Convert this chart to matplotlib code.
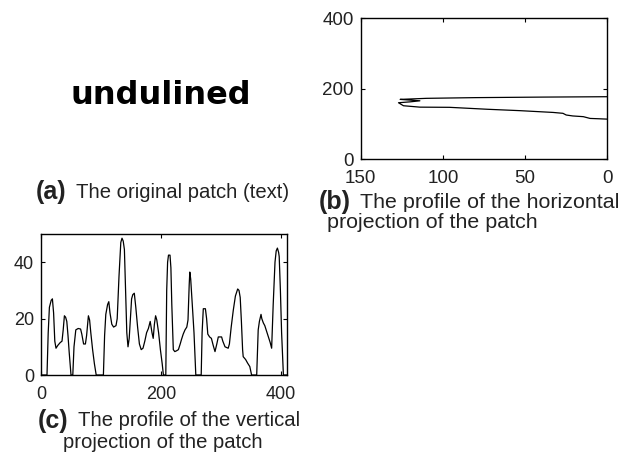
import matplotlib
matplotlib.use("Agg")
import matplotlib.pyplot as plt

plt.rcParams['font.family'] = ['Liberation Sans', 'DejaVu Sans']

# vertical projection profile (c): column index vs ink count
col_idx = [0, 10, 12, 14, 17, 19, 21, 23, 25, 28, 32, 35, 37, 39, 41, 43, 45, 47, 50,
           53, 55, 58, 62, 66, 68, 71, 74, 76, 79, 81, 83, 86, 89, 92,
           104, 106, 108, 111, 113, 115, 118, 121, 125, 127, 130, 133, 135, 137, 139,
           141, 143, 145, 147, 149, 151, 153, 155.5, 158, 161, 164, 167, 170, 173, 176,
           179, 182, 185, 187, 189, 191, 193, 196, 199, 202, 204,
           208, 209.5, 211, 212.5, 215, 216.5, 218, 220.5, 223, 226, 229, 232, 234, 237,
           240, 243, 245, 247, 248, 249.5, 251, 253, 255, 257, 258,
           267, 268.5, 270.5, 274, 276, 278, 281, 284, 287, 290, 293, 295.5, 301, 303,
           306.7, 312, 314, 317, 320.5, 324, 327.8, 330, 332, 334, 336, 337, 341, 344.4,
           348, 351,
           359.5, 361, 362, 364, 366.7, 368, 370.5, 373, 376, 379, 382, 384.4, 387, 390,
           392, 394, 396, 397, 399, 401, 404, 410]
col_count = [0, 0, 15, 24, 26.5, 27, 22, 12, 9.5, 10.5, 11.5, 12, 16, 21, 20.5, 19, 14, 8, 0,
             0, 10, 16, 16.5, 16.3, 14.5, 11, 11, 14, 21, 19.5, 15, 9, 4, 0,
             0, 14, 21.5, 25, 26, 22, 18, 17, 17.5, 20, 35, 47, 48.5, 47.5, 44.5,
             30, 15, 10, 13, 20, 27, 28.5, 29, 24, 17, 11, 9, 9.5, 12, 15,
             16.5, 19, 15, 13, 18, 21, 19.5, 15, 9, 4, 0,
             0, 30, 40, 42.5, 42.5, 38, 25, 9, 8.3, 8.6, 9, 11, 12.5, 14.5,
             16, 17, 19.5, 32, 36.5, 34, 29, 22, 15, 5, 0,
             0, 15, 23.5, 23.5, 20, 14.5, 13.5, 13, 10.5, 8.3, 11, 13.5, 13.5, 12,
             10, 9.5, 11, 17, 23, 28, 30.5, 30, 27.5, 19, 9, 6.5, 5.5, 4.2,
             3, 0,
             0, 10, 16, 19, 21.5, 20, 18.5, 17.5, 15.5, 13.5, 11.5, 9.5, 25, 40,
             44, 45, 43.5, 42, 30, 15, 0, 0]

# horizontal projection profile (b): ink count vs row index
row_count = [0, 40, 80, 110, 126, 120, 114, 120, 127, 124, 114, 96, 73, 53, 41, 33,
             27, 25, 21, 14.6, 10.5, 5, 0]
row_idx = [177.6, 176.5, 175, 173, 170, 168, 166, 163, 160.5, 152, 148, 147.5, 142, 138,
           135, 133, 130.5, 125.7, 123, 121, 116, 115, 114]

txt_col = '#222222'
lab_size = 18

fig = plt.figure(figsize=(6.25, 4.57), dpi=100)


def style(ax, size):
    ax.tick_params(direction='in', length=3, width=0.8, top=True, right=True,
                   labelsize=size, labelcolor=txt_col)
    ax.tick_params(axis='x', pad=8)
    ax.tick_params(axis='y', pad=5)
    for s in ax.spines.values():
        s.set_linewidth(1.0)


def caption(x0, x1, y1, x2, y2, tag, line1, line2, size):
    fig.text(x0 / 625, 1 - y1 / 457, tag, weight='bold', fontsize=lab_size,
             ha='left', va='center', color=txt_col)
    fig.text(x1 / 625, 1 - y1 / 457, line1, fontsize=size,
             ha='left', va='center', color=txt_col)
    if line2:
        fig.text(x2 / 625, 1 - y2 / 457, line2, fontsize=size,
                 ha='left', va='center', color=txt_col)


# (a) the patch itself
fig.text(161 / 625, 1 - 96 / 457, 'undulined', family='DejaVu Sans', weight='bold',
         fontsize=23, ha='center', va='center', color='black')
caption(36, 76, 192, 0, 0, '(a)', 'The original patch (text)', None, 14.6)

# (b)
axb = fig.add_axes([0.5771, 0.6514, 0.3946, 0.3085])
axb.plot(row_count, row_idx, color='black', lw=0.9)
axb.set_xlim(150, 0)
axb.set_ylim(0, 400)
axb.set_xticks([150, 100, 50, 0])
axb.set_yticks([0, 200, 400])
style(axb, 13.5)
caption(319, 360, 202, 327, 222, '(b)', 'The profile of the horizontal',
        'projection of the patch', 15.4)

# (c)
axc = fig.add_axes([0.0656, 0.1794, 0.3936, 0.3086])
axc.plot(col_idx, col_count, color='black', lw=0.9)
axc.set_xlim(0, 410)
axc.set_ylim(0, 50)
axc.set_xticks([0, 200, 400])
axc.set_yticks([0, 20, 40])
style(axc, 13)
caption(38, 78, 421, 63, 442, '(c)', 'The profile of the vertical',
        'projection of the patch', 14.6)

fig.savefig('out.png', dpi=100)
